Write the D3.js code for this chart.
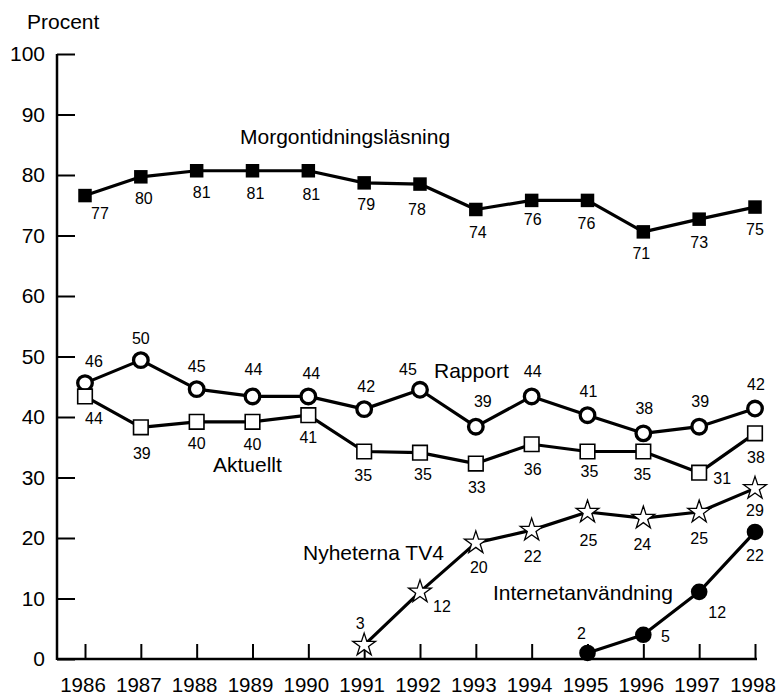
<!DOCTYPE html>
<html>
<head>
<meta charset="utf-8">
<script src="https://cdn.jsdelivr.net/npm/d3@7"></script>
<style>
  body { margin: 0; background: #fff; }
  svg { display: block; font-family: "Liberation Sans", Arial, sans-serif; }
</style>
</head>
<body>
<div id="chart"></div>
<script>
const years = [1986, 1987, 1988, 1989, 1990, 1991, 1992, 1993, 1994, 1995, 1996, 1997, 1998]
const yTicks = [0, 10, 20, 30, 40, 50, 60, 70, 80, 90, 100]

const morgon = [76.6, 79.7, 80.7, 80.7, 80.7, 78.7, 78.5, 74.3, 75.8, 75.8, 70.6, 72.7, 74.7]
const morgonLabels = [77, 80, 81, 81, 81, 79, 78, 74, 76, 76, 71, 73, 75]

const rapport = [45.6, 49.4, 44.6, 43.4, 43.4, 41.3, 44.5, 38.4, 43.4, 40.3, 37.3, 38.4, 41.4]
const rapportLabels = [46, 50, 45, 44, 44, 42, 45, 39, 44, 41, 38, 39, 42]

const aktuellt = [43.4, 38.3, 39.2, 39.2, 40.3, 34.3, 34.1, 32.3, 35.5, 34.3, 34.3, 30.8, 37.3]
const aktuelltLabels = [44, 39, 40, 40, 41, 35, 35, 33, 36, 35, 35, 31, 38]

const tv4Years = [1991, 1992, 1993, 1994, 1995, 1996, 1997, 1998]
const tv4 = [2.3, 11.1, 19.2, 21.3, 24.3, 23.3, 24.3, 28.2]
const tv4Labels = [3, 12, 20, 22, 25, 24, 25, 29]

const internetYears = [1995, 1996, 1997, 1998]
const internet = [1.0, 4.0, 11.1, 21.0]
const internetLabels = [2, 5, 12, 22]

// where each value label sits relative to its marker (text centre)
const morgonOffsets = [[15, 18], [3, 22], [5, 22], [3, 23], [3, 24], [2, 22], [-3, 25], [2, 23], [1, 19], [-1, 23], [-2, 22], [0, 23], [0, 22]]
const rapportOffsets = [[9, -22], [0, -22], [0, -23], [1, -27], [3, -23], [2, -23], [-12, -20], [7, -25], [1, -25], [1, -24], [1, -25], [1, -25], [1, -24]]
const aktuelltOffsets = [[9, 22], [1, 26], [0, 22], [0, 23], [0, 22], [-1, 24], [3, 22], [1, 24], [1, 25], [2, 20], [-1, 23], [23, 6], [1, 24]]
const tv4Offsets = [[-4, -22], [22, 15], [3, 25], [1, 26], [1, 28], [-1, 26], [0, 26], [0, 22]]
const internetOffsets = [[-6, -20], [22, 2], [18, 21], [0, 23]]

const width = 777, height = 695
const axisX = 57, axisY = 659

const svg = d3.select("#chart").append("svg")
    .attr("width", width)
    .attr("height", height)

const x = d3.scaleLinear().domain([1986, 1998]).range([85, 755])
const y = d3.scaleLinear().domain([0, 100]).range([axisY, 54])

// y axis, ticks pointing into the plot
svg.append("g")
    .attr("transform", `translate(${axisX},0)`)
    .call(d3.axisLeft(y).tickValues(yTicks).tickSizeInner(-18).tickSizeOuter(0).tickPadding(12))
    .call(g => g.select(".domain").remove())
    .call(g => g.selectAll("line").attr("stroke", "#000").attr("stroke-width", 2))
    .call(g => g.selectAll("text").attr("font-size", 21).attr("fill", "#000").attr("font-family", null))

svg.append("g")
    .attr("transform", `translate(0,${axisY})`)
    .call(d3.axisBottom(x).tickValues(years).tickFormat(d3.format("d")).tickSizeInner(-15).tickSizeOuter(0).tickPadding(18))
    .call(g => g.select(".domain").remove())
    .call(g => g.selectAll("line").attr("stroke", "#000").attr("stroke-width", 2))
    .call(g => g.selectAll("text").attr("font-size", 20.5).attr("dx", -2.5).attr("fill", "#000").attr("font-family", null))

svg.append("line")
    .attr("x1", axisX).attr("x2", axisX)
    .attr("y1", y(100)).attr("y2", axisY + 1)
    .attr("stroke", "#000").attr("stroke-width", 2.5)
svg.append("line")
    .attr("x1", axisX).attr("x2", 757)
    .attr("y1", axisY).attr("y2", axisY)
    .attr("stroke", "#000").attr("stroke-width", 2.5)

svg.append("text")
    .attr("x", 27).attr("y", 29)
    .attr("font-size", 21)
    .text("Procent")

const line = d3.line().x(d => x(d.year)).y(d => y(d.value))

function drawSeries(xs, values, labels, offsets, marker) {
    const data = xs.map((yr, i) => ({year: yr, value: values[i], label: labels[i], off: offsets[i]}))
    const g = svg.append("g")

    g.append("path")
        .datum(data)
        .attr("d", line)
        .attr("fill", "none")
        .attr("stroke", "#000")
        .attr("stroke-width", 3.2)
        .attr("stroke-linejoin", "round")

    g.selectAll(".pt")
        .data(data)
        .join("path")
        .attr("class", "pt")
        .attr("transform", d => `translate(${x(d.year)},${y(d.value)})`)
        .attr("d", d3.symbol().type(marker.type).size(marker.size))
        .attr("fill", marker.fill)
        .attr("stroke", "#000")
        .attr("stroke-width", marker.stroke)

    g.selectAll(".lbl")
        .data(data)
        .join("text")
        .attr("class", "lbl")
        .attr("x", d => x(d.year) + d.off[0])
        .attr("y", d => y(d.value) + d.off[1])
        .attr("dy", "0.35em")
        .attr("text-anchor", "middle")
        .attr("font-size", 16)
        .text(d => d.label)
}

drawSeries(years, morgon, morgonLabels, morgonOffsets,
    {type: d3.symbolSquare, size: 13.5 * 13.5, fill: "#000", stroke: 0})
drawSeries(years, rapport, rapportLabels, rapportOffsets,
    {type: d3.symbolCircle, size: Math.PI * 7.3 * 7.3, fill: "#fff", stroke: 3.3})
drawSeries(years, aktuellt, aktuelltLabels, aktuelltOffsets,
    {type: d3.symbolSquare, size: 14.6 * 14.6, fill: "#fff", stroke: 1.6})
drawSeries(tv4Years, tv4, tv4Labels, tv4Offsets,
    {type: d3.symbolStar, size: 12 * 12 / 0.8908, fill: "#fff", stroke: 1.3})
drawSeries(internetYears, internet, internetLabels, internetOffsets,
    {type: d3.symbolCircle, size: Math.PI * 8.3 * 8.3, fill: "#000", stroke: 0})

// series names
const names = [
    {text: "Morgontidningsläsning", x: 240, y: 144},
    {text: "Rapport", x: 434, y: 378},
    {text: "Aktuellt", x: 213, y: 472},
    {text: "Nyheterna TV4", x: 303, y: 560},
    {text: "Internetanvändning", x: 493, y: 600}
]
svg.selectAll(".name")
    .data(names)
    .join("text")
    .attr("class", "name")
    .attr("x", d => d.x)
    .attr("y", d => d.y)
    .attr("font-size", 21)
    .text(d => d.text)
</script>
</body>
</html>
